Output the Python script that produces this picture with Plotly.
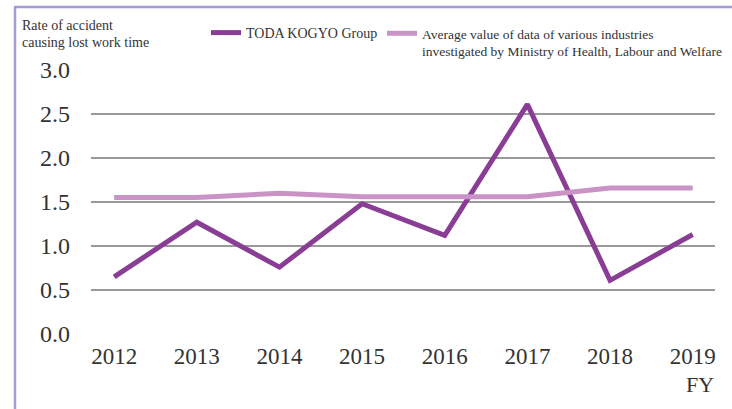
import plotly.graph_objects as go

years = ["2012", "2013", "2014", "2015", "2016", "2017", "2018", "2019"]
toda = [0.65, 1.27, 0.76, 1.48, 1.12, 2.61, 0.61, 1.13]
industry_avg = [1.55, 1.55, 1.60, 1.56, 1.56, 1.56, 1.66, 1.66]
y_ticks = [0.0, 0.5, 1.0, 1.5, 2.0, 2.5, 3.0]
y_tick_labels = ["0.0", "0.5", "1.0", "1.5", "2.0", "2.5", "3.0"]
title_lines = ["Rate of accident", "causing lost work time"]

SERIF = "Liberation Serif"
L, R, T, B = 91, 17, 70, 75
W, H = 732, 409
pw, ph = W - L - R, H - T - B

def px(x):
    return (x - L) / pw

def py(y):
    return (H - B - y) / ph

fig = go.Figure()
fig.add_trace(go.Scatter(
    x=years, y=toda, mode="lines", name="TODA KOGYO Group",
    line=dict(color="#8a3d95", width=5), legend="legend",
))
fig.add_trace(go.Scatter(
    x=years, y=industry_avg, mode="lines",
    name="Average value of data of various industries<br>investigated by Ministry of Health, Labour and Welfare",
    line=dict(color="#c993c5", width=5), legend="legend2",
))

leg_common = dict(
    orientation="v", xanchor="left",
    itemwidth=30, bgcolor="rgba(0,0,0,0)", borderwidth=0,
)

annotations = [
    dict(text=t, xref="paper", yref="paper", x=px(20), y=py(yc), xanchor="left",
         yanchor="middle", showarrow=False, font=dict(family=SERIF, size=14, color="#333333"))
    for t, yc in zip(title_lines, [26, 43])
]
annotations.append(
    dict(text="FY", xref="paper", yref="paper", x=px(716), y=py(384), xanchor="right",
         yanchor="middle", showarrow=False, font=dict(family=SERIF, size=22, color="#333333"))
)

fig.update_layout(
    width=W, height=H,
    margin=dict(l=L, r=R, t=T, b=B, autoexpand=False),
    paper_bgcolor="white", plot_bgcolor="white",
    font=dict(family=SERIF, color="#333333"),
    showlegend=True,
    legend=dict(x=px(206), y=py(33), yanchor="middle",
                font=dict(family=SERIF, size=14, color="#333333"), **leg_common),
    legend2=dict(x=px(382), y=py(18), yanchor="top", valign="top",
                 font=dict(family=SERIF, size=13.5, color="#333333"), **leg_common),
    xaxis=dict(
        type="category", range=[-0.28, 7.27], showgrid=False, zeroline=False,
        showline=False, ticks="", tickfont=dict(family=SERIF, size=23, color="#333333"),
        ticklabelstandoff=6,
    ),
    yaxis=dict(
        range=[0, 3.0], tickvals=y_ticks, ticktext=y_tick_labels,
        showgrid=True, gridcolor="#9a9a9a", gridwidth=1.5, zeroline=False,
        showline=False, ticks="", tickfont=dict(family=SERIF, size=24, color="#333333"),
        ticklabelstandoff=20,
    ),
    shapes=[
        dict(type="line", xref="paper", yref="paper", x0=px(15), x1=px(15), y0=py(409), y1=py(7),
             line=dict(color="#a29cd2", width=2.5), layer="above"),
        dict(type="line", xref="paper", yref="paper", x0=px(14), x1=px(732), y0=py(7), y1=py(7),
             line=dict(color="#a29cd2", width=2.5), layer="above"),
    ],
    annotations=annotations,
)

fig.write_html("out.html", config={"displayModeBar": False},
               post_script="document.body.style.margin='0';document.body.style.padding='0';")
